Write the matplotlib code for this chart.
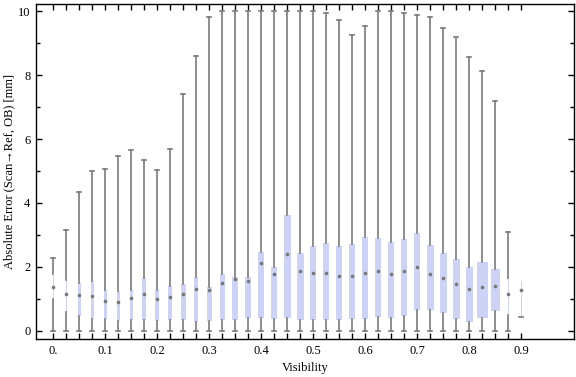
#!/usr/bin/env python
# python3
"""
    Box-whisker chart of absolute error vs visibility
"""
import numpy as np
import matplotlib
matplotlib.use('Agg')
import matplotlib.pyplot as plt
from matplotlib import rc
rc("font", size=9, family=['Liberation Serif', 'DejaVu Serif'])

# Visibility bins (box positions)
visibility = [0.0, 0.025, 0.05, 0.075, 0.1, 0.125, 0.15, 0.175, 0.2, 0.225,
              0.25, 0.275, 0.3, 0.325, 0.35, 0.375, 0.4, 0.425, 0.45, 0.475,
              0.5, 0.525, 0.55, 0.575, 0.6, 0.625, 0.65, 0.675, 0.7, 0.725,
              0.75, 0.775, 0.8, 0.825, 0.85, 0.875, 0.9]

# Absolute error statistics per bin [mm]
err_min = [0.0] * 36 + [0.43]
err_q1 = [0.99, 0.58, 0.46, 0.36, 0.35, 0.31, 0.33, 0.33, 0.31, 0.33,
          0.33, 0.28, 0.31, 0.33, 0.33, 0.38, 0.38, 0.36, 0.40, 0.33,
          0.33, 0.33, 0.34, 0.36, 0.37, 0.42, 0.38, 0.47, 0.64, 0.64,
          0.55, 0.36, 0.27, 0.39, 0.61, 0.49, 0.43]
err_median = [1.35, 1.15, 1.12, 1.07, 0.92, 0.90, 1.02, 1.14, 0.98, 1.05,
              1.14, 1.31, 1.26, 1.48, 1.63, 1.55, 2.13, 1.78, 2.41, 1.85,
              1.81, 1.81, 1.72, 1.70, 1.81, 1.85, 1.78, 1.88, 1.99, 1.78,
              1.65, 1.47, 1.31, 1.36, 1.38, 1.16, 1.26]
err_q3 = [1.77, 1.59, 1.49, 1.54, 1.27, 1.24, 1.27, 1.65, 1.27, 1.39,
          1.46, 1.68, 1.36, 1.77, 1.68, 1.68, 2.46, 1.99, 3.62, 2.43,
          2.65, 2.73, 2.65, 2.71, 2.93, 2.90, 2.78, 2.87, 3.06, 2.68,
          2.43, 2.24, 1.99, 2.15, 1.93, 1.65, 1.56]
err_max = [2.27, 3.15, 4.33, 5.00, 5.06, 5.47, 5.65, 5.36, 5.02, 5.68,
           7.40, 8.59, 9.83, 10.0, 10.0, 10.0, 10.0, 10.0, 10.0, 10.0,
           10.0, 9.94, 9.72, 9.26, 9.55, 10.0, 10.0, 9.96, 9.88, 9.82,
           9.47, 9.19, 8.56, 8.13, 7.18, 3.09, 1.56]

# Box widths (in visibility units), Mathematica scales them per bin
box_widths = np.array([1.0, 1.0, 3.3, 3.3, 3.3, 3.0, 3.3, 4.0, 4.0, 4.0,
                       4.7, 4.3, 5.0, 5.0, 6.0, 6.0, 6.0, 6.0, 7.0, 7.0,
                       6.3, 6.0, 6.0, 6.0, 6.0, 6.0, 6.0, 6.0, 6.3, 7.0,
                       6.7, 7.3, 7.0, 10.7, 8.7, 1.5, 0.5]) / 520.

xlabels = ['0.', '0.1', '0.2', '0.3', '0.4', '0.5', '0.6', '0.7', '0.8', '0.9']

stats = []
for i in range(len(visibility)):
    stats.append({'whislo': err_min[i], 'q1': err_q1[i], 'med': err_median[i],
                  'q3': err_q3[i], 'whishi': err_max[i], 'mean': err_median[i]})

fig = plt.figure(figsize=(5.76, 3.77), dpi=100)
ax = fig.add_axes([0.0625, 0.1008, 0.934, 0.8886])

box_col = '#cdd3f6'
grey = '#7a7a7a'
parts = ax.bxp(stats, positions=visibility, widths=box_widths, patch_artist=True,
               showfliers=False, showmeans=True, manage_ticks=False,
               capwidths=0.008,
               boxprops=dict(facecolor=box_col, edgecolor='none', linewidth=0),
               whiskerprops=dict(color=grey, linewidth=1.2),
               capprops=dict(color=grey, linewidth=1.2),
               medianprops=dict(linewidth=0, color='none'),
               meanprops=dict(marker='o', markersize=2.6,
                              markerfacecolor='#777777', markeredgecolor='none'))
# last bin has no upper whisker
parts['caps'][-1].set_visible(False)

ax.set_xlim(-0.0333, 1.0013)
ax.set_ylim(-0.266, 10.235)

ax.set_xticks(visibility)
ax.set_xticklabels([xlabels[i // 4] if i % 4 == 0 else '' for i in range(len(visibility))])
ax.set_yticks([0, 2, 4, 6, 8, 10])
ax.set_yticks([1, 3, 5, 7, 9], minor=True)
ax.tick_params(which='both', direction='in', top=True, right=True, width=1.0)
ax.tick_params(which='major', length=4)
ax.tick_params(axis='y', which='major', pad=4)
ax.tick_params(axis='x', which='major', pad=4)
ax.tick_params(which='minor', length=3)
for s in ax.spines.values():
    s.set_linewidth(1.0)

ax.set_xlabel('Visibility', labelpad=4)
ax.set_ylabel('Absolute Error (Scan\u2192Ref, OB) [mm]', labelpad=2)

fig.savefig('out.png', dpi=100)
